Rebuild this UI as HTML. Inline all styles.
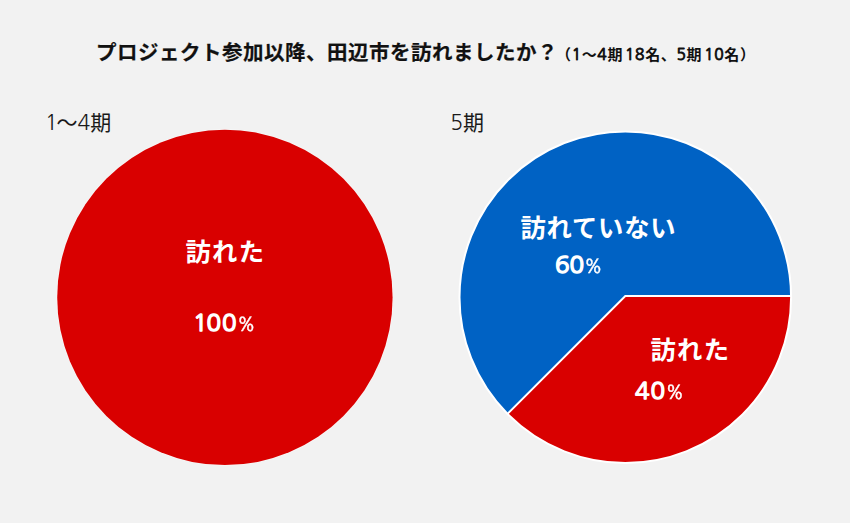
<!DOCTYPE html>
<html lang="ja">
<head>
<meta charset="utf-8">
<style>
html,body{margin:0;padding:0;}
body{width:850px;height:523px;background:#f2f2f2;position:relative;overflow:hidden;
font-family:"Liberation Sans","Noto Sans CJK JP",sans-serif;color:#1a1a1a;}
.t{position:absolute;white-space:nowrap;line-height:1;}
#title{left:96px;top:42.5px;font-size:20.5px;letter-spacing:.5px;font-weight:bold;color:#111;-webkit-text-stroke:.2px #111;}
#sub{left:556px;top:46.5px;font-size:15px;letter-spacing:.65px;word-spacing:-2.8px;font-weight:bold;color:#111;}
#l1{left:45px;top:112px;font-size:21px;}
#l2{left:450.3px;top:112px;font-size:21px;}
svg{position:absolute;left:0;top:0;}
.w{color:#fff;font-weight:bold;}
.sd{font-family:"NanumGothic","Liberation Sans",sans-serif;font-weight:normal;font-size:15.5px;-webkit-text-stroke:.9px #111;}
.nd{font-family:"NanumGothic","Liberation Sans",sans-serif;}
.big{font-size:25.3px;}
.num{font-family:"NanumGothic","WenQuanYi Zen Hei",sans-serif;font-weight:normal;font-size:24px;letter-spacing:0px;-webkit-text-stroke:1.5px #fff;}
.pc{position:absolute;top:4px;line-height:1;font-weight:normal;font-family:"WenQuanYi Zen Hei","Liberation Sans",sans-serif;font-size:21px;-webkit-text-stroke:.4px #fff;}
</style>
</head>
<body>
<svg width="850" height="523" viewBox="0 0 850 523">
  <defs><clipPath id="cp"><circle cx="625.3" cy="297.2" r="165.8"/></clipPath></defs>
  <circle cx="224.9" cy="297.4" r="168.4" fill="#fff" fill-opacity="0.45"/>
  <circle cx="224.9" cy="297.4" r="167.7" fill="#d90000"/>
  <circle cx="625.3" cy="297.2" r="165.8" fill="#0062c4"/>
  <g clip-path="url(#cp)">
    <path d="M625.3 296.0 L1025.3 296.0 L1025.3 696.0 L225.29999999999995 696.0 Z" fill="#d90000"/>
    <path d="M1025.3 296.0 L625.3 296.0 L225.29999999999995 696.0" fill="none" stroke="#fff" stroke-width="2" stroke-linejoin="miter"/>
  </g>
  <circle cx="625.3" cy="297.2" r="165.8" fill="none" stroke="#fff" stroke-width="2"/>
</svg>
<div class="t" id="title">プロジェクト参加以降、田辺市を訪れましたか？</div>
<div class="t" id="sub">（<span class="sd">1</span>〜<span class="sd">4</span>期 <span class="sd">18</span>名、<span class="sd">5</span>期 <span class="sd">10</span>名）</div>
<div class="t" id="l1"><span class="nd" style="letter-spacing:-1.2px">1</span>〜<span class="nd">4</span>期</div>
<div class="t" id="l2"><span class="nd">5</span>期</div>
<div class="t w big" id="a1" style="left:185.5px;top:240px;letter-spacing:1.3px">訪れた</div>
<div class="t w num" style="left:193px;top:310px;"><span style="letter-spacing:-1px">1</span><span style="letter-spacing:1px">0</span>0<span class="pc" style="left:46px;">%</span></div>
<div class="t w big" id="a2" style="left:520.5px;top:216px;letter-spacing:.8px">訪れていない</div>
<div class="t w num" style="left:555px;top:252px;">60<span class="pc" style="left:31px;">%</span></div>
<div class="t w big" id="a3" style="left:650.5px;top:338px;letter-spacing:1.3px">訪れた</div>
<div class="t w num" style="left:635px;top:378px;"><span style="letter-spacing:1px">4</span>0<span class="pc" style="left:32.5px;">%</span></div>
</body>
</html>
